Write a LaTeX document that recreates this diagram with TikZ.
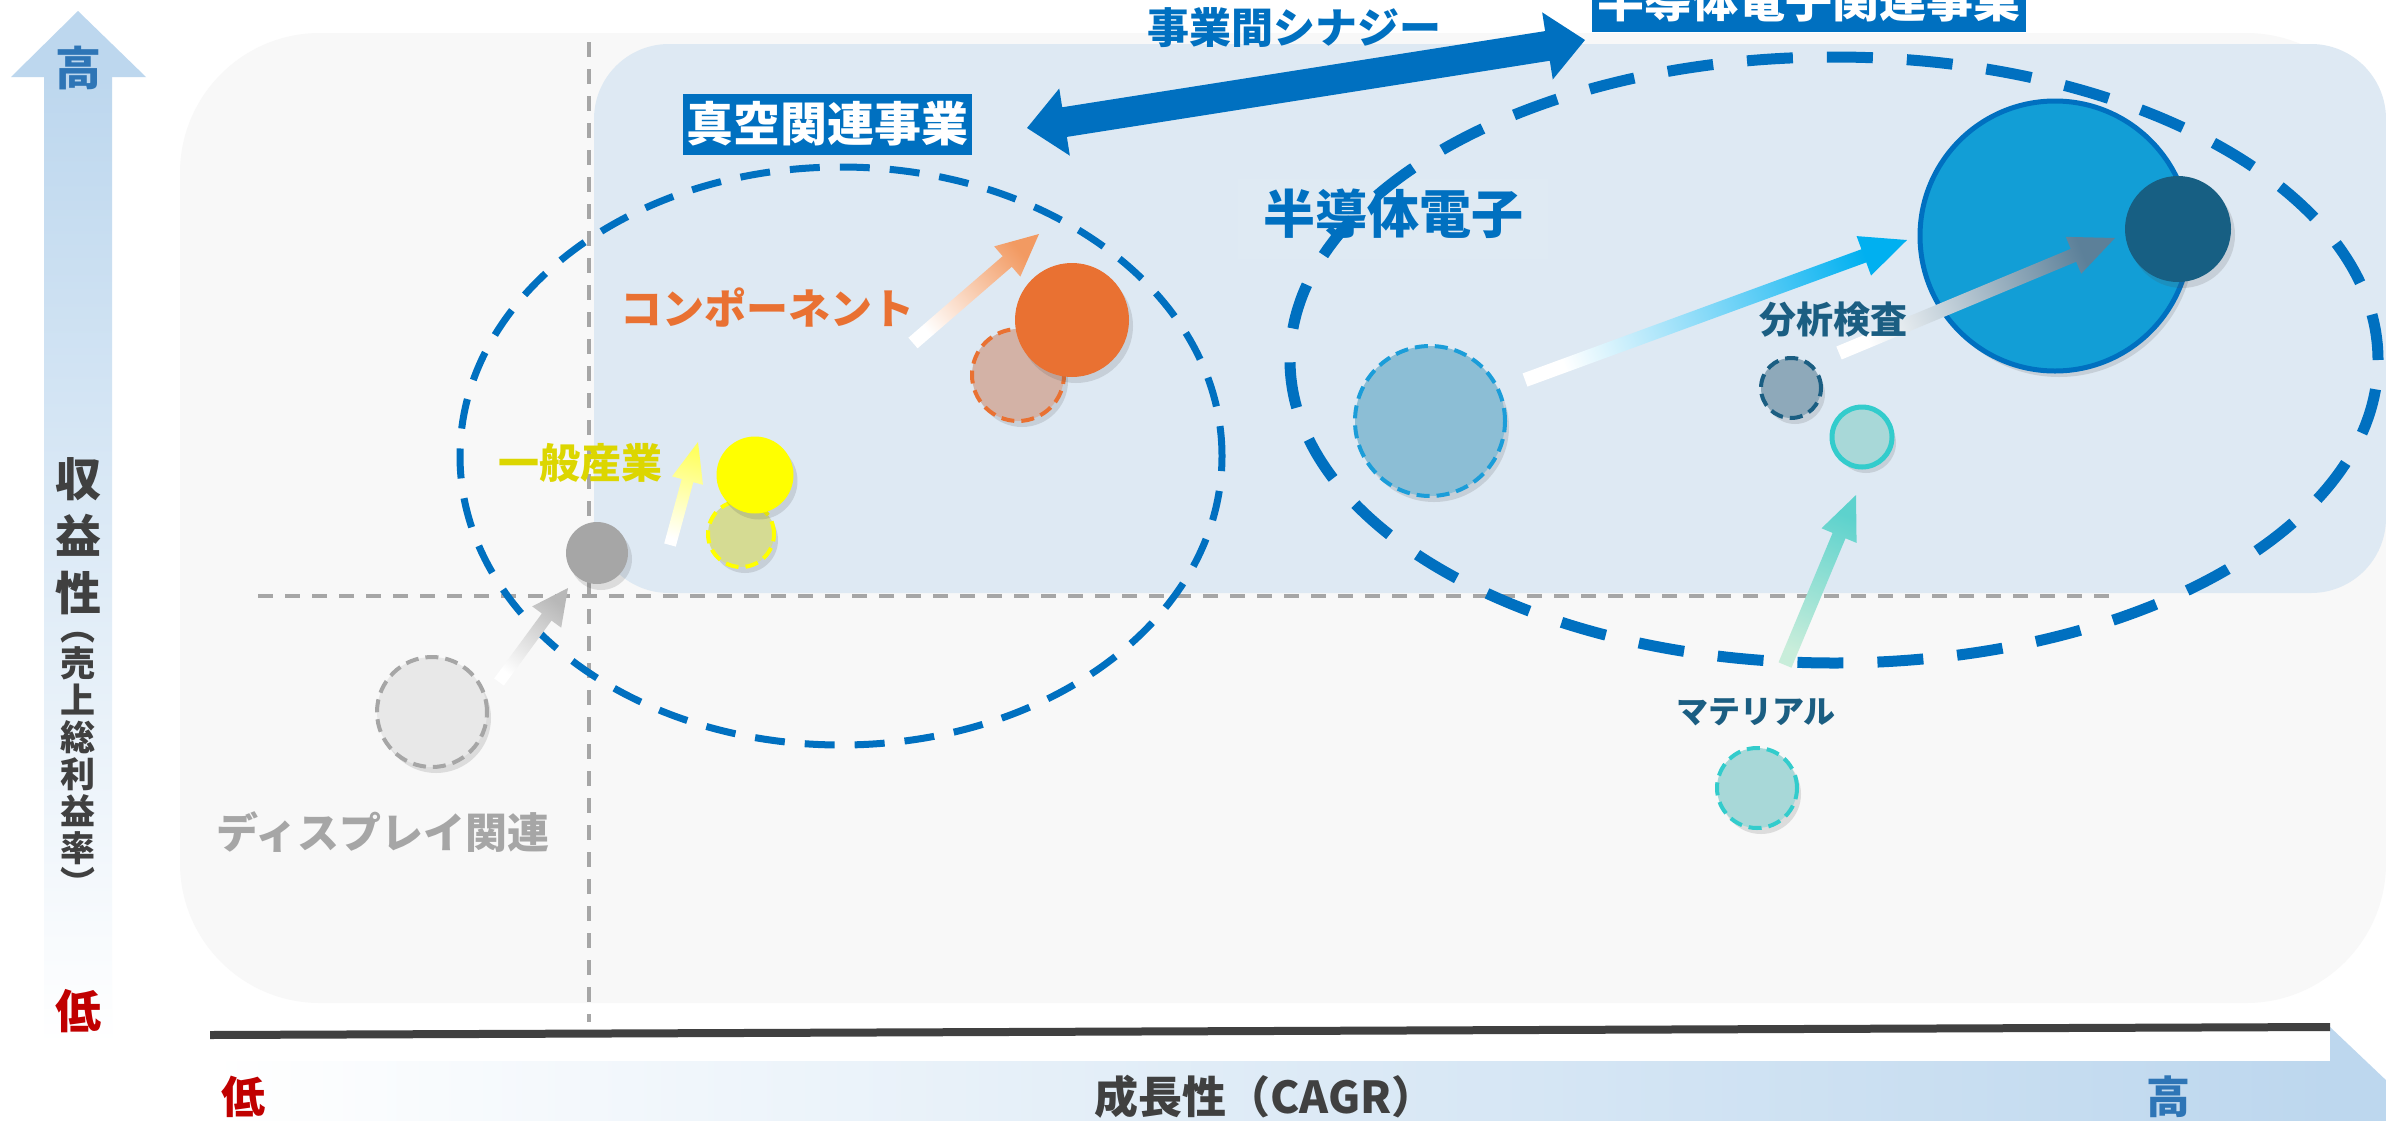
\documentclass[tikz,border=0pt]{standalone}
\usepackage{fontspec}
\setmainfont{Noto Sans CJK JP}
\usetikzlibrary{calc,shadows,shapes.geometric}
\definecolor{cblue}{HTML}{0070C0}
\definecolor{bgout}{HTML}{F8F8F8}
\definecolor{bgin}{HTML}{DEE9F3}
\definecolor{axblue}{HTML}{BDD7EE}
\definecolor{axtxt}{HTML}{404040}
\definecolor{lowred}{HTML}{C00000}
\definecolor{highblue}{HTML}{2E75B6}
\definecolor{gline}{HTML}{A6A6A6}
\definecolor{corange}{HTML}{E97132}
\definecolor{corangel}{HTML}{D3B2A6}
\definecolor{corangea}{HTML}{F29A62}
\definecolor{cyel}{HTML}{FFFF00}
\definecolor{cyell}{HTML}{D5DB93}
\definecolor{cyeltxt}{HTML}{DCD600}
\definecolor{cyela}{HTML}{FFFF60}
\definecolor{cgrey}{HTML}{A6A6A6}
\definecolor{cgreyl}{HTML}{E8E8E8}
\definecolor{cgreya}{HTML}{B8B8B8}
\definecolor{csemi}{HTML}{129ED6}
\definecolor{cnavy}{HTML}{175F83}
\definecolor{csemil}{HTML}{8CBED5}
\definecolor{csemid}{HTML}{1B9DD9}
\definecolor{ccyan}{HTML}{00B0F0}
\definecolor{cana}{HTML}{1B5E82}
\definecolor{canal}{HTML}{8EA9BA}
\definecolor{canaa}{HTML}{5C8099}
\definecolor{cteal}{HTML}{33CCCC}
\definecolor{ctealf}{HTML}{A8D8D8}
\definecolor{ctealt}{HTML}{C8EDDA}
\definecolor{cteala}{HTML}{5DD2CD}
\newcommand\fsz[1]{\fontsize{#1}{#1}\selectfont}
% tail, tip, shaft half, head half, head length, tail colour, head colour, shading angle
\newcommand\garrow[8]{%
  \coordinate (#1-b) at ($(#2)!#5!(#1)$);
  \shade[bottom color=#6, top color=#7, shading angle=#8]
    ($(#1)!#3!90:(#2)$) -- ($(#1-b)!#3!-90:(#1)$) -- ($(#1-b)!#4!-90:(#1)$) --
    (#2) -- ($(#1-b)!#4!90:(#1)$) -- ($(#1-b)!#3!90:(#1)$) -- ($(#1)!#3!-90:(#2)$) -- cycle;}
\begin{document}
\begin{tikzpicture}[x=1pt,y=-1pt,
  lbl/.style={inner sep=0pt},
  bub/.style={circle, inner sep=0pt, drop shadow={shadow xshift=4pt, shadow yshift=-6pt, opacity=0.16, fill=black!70}},
  dashc/.style={dash pattern=on 13pt off 7pt, line width=4pt},
  axdash/.style={draw=gline, line width=3.5pt, dash pattern=on 15pt off 12pt},
  grpell/.style={ellipse, draw=cblue, inner sep=0pt},
  tagbox/.style={fill=cblue, text=white, inner sep=0pt, font=\bfseries\fsz{47}},
  paren/.style={lbl, text=axtxt, font=\bfseries\fsz{35}, anchor=base, text height=1pt, text depth=0pt},
]
\useasboundingbox (0,0) rectangle (2386,1120);
\clip (0,0) rectangle (2386,1120);
\fill[white] (0,0) rectangle (2386,1120);
% regions
\fill[bgout, rounded corners=140pt] (180,33) rectangle (2386,1003);
\fill[bgin, rounded corners=75pt] (594,44) rectangle (2386,593);
\fill[white, opacity=0.05] (1238,179) rectangle (1548,259);
% quadrant lines
\coordinate (vq1) at (589,42); \coordinate (vq2) at (589,1022);
\coordinate (hq1) at (258,596); \coordinate (hq2) at (2120,596);
\draw[axdash] (vq1) -- (vq2);
\draw[axdash] (hq1) -- (hq2);
% group ellipses
\node[grpell, line width=7pt, dash pattern=on 30pt off 20pt, minimum width=762pt, minimum height=578pt] (vacgrp) at (841,456) {};
\node[grpell, line width=11pt, dash pattern=on 46pt off 34pt, minimum width=1088pt, minimum height=606pt] (semigrp) at (1834,360) {};
% bubbles
\node[bub, minimum size=110pt, fill=cgreyl, draw=cgrey, dashc] (disp0) at (432,712) {};
\node[bub, minimum size=62pt, fill=cgrey] (disp1) at (597,553) {};
\node[bub, minimum size=66pt, fill=cyell, draw=cyel, dashc] (gen0) at (741,534) {};
\node[bub, minimum size=77pt, fill=cyel] (gen1) at (755,475) {};
\node[bub, minimum size=92pt, fill=corangel, draw=corange, dashc] (comp0) at (1018,375) {};
\node[bub, minimum size=114pt, fill=corange] (comp1) at (1072,320) {};
\node[bub, minimum size=150pt, fill=csemil, draw=csemid, dashc] (semi0) at (1430,421) {};
\node[bub, minimum size=270pt, fill=csemi, draw=cblue, line width=5pt] (semi1) at (2055,236) {};
\node[bub, minimum size=106pt, fill=cnavy] (ana1) at (2178,229) {};
\node[bub, minimum size=60pt, fill=canal, draw=cana, dashc] (ana0) at (1791,388) {};
\node[bub, minimum size=60pt, fill=ctealf, draw=cteal, line width=5pt] (mat1) at (1862,437) {};
\node[bub, minimum size=80pt, fill=ctealf, draw=cteal, dashc] (mat0) at (1757,788) {};
% movement arrows
\coordinate (ga) at (499,682); \coordinate (gb) at (568,588);
\coordinate (ya) at (670,545); \coordinate (yb) at (698,442);
\coordinate (oa) at (913,343); \coordinate (ob) at (1039,234);
\coordinate (ba) at (1525,380); \coordinate (bb) at (1907,240);
\coordinate (da) at (1839,353); \coordinate (db) at (2115,238);
\coordinate (ta) at (1785,665); \coordinate (tb) at (1856,495);
\garrow{ga}{gb}{6pt}{18pt}{36pt}{white}{cgreya}{-36.3}
\garrow{ya}{yb}{6pt}{16pt}{40pt}{white}{cyela}{-15.2}
\garrow{oa}{ob}{7pt}{20pt}{42pt}{white}{corangea}{-49.1}
\garrow{ba}{bb}{7pt}{21pt}{46pt}{white}{ccyan}{-69.9}
\garrow{da}{db}{7pt}{20pt}{45pt}{white}{canaa}{-67.4}
\garrow{ta}{tb}{7pt}{19pt}{44pt}{ctealt}{cteala}{-22.7}
% synergy double arrow
\coordinate (syL) at (1027,128); \coordinate (syR) at (1585,40);
\coordinate (syBL) at ($(syL)!38pt!(syR)$);
\coordinate (syBR) at ($(syR)!38pt!(syL)$);
\fill[cblue] (syL) -- ($(syBL)!34pt!90:(syR)$) -- ($(syBL)!15pt!90:(syR)$) -- ($(syBR)!15pt!-90:(syL)$) -- ($(syBR)!34pt!-90:(syL)$) -- (syR) -- ($(syBR)!34pt!90:(syL)$) -- ($(syBR)!15pt!90:(syL)$) -- ($(syBL)!15pt!-90:(syR)$) -- ($(syBL)!34pt!-90:(syR)$) -- cycle;
% labels
\node[lbl, text=cgrey, font=\bfseries\fsz{42}] (tdisp) at (383,832) {ディスプレイ関連};
\node[lbl, text=cyeltxt, font=\bfseries\fsz{41}] (tgen) at (580,463) {一般産業};
\node[lbl, text=corange, font=\bfseries\fsz{42}] (tcomp) at (767,308) {コンポーネント};
\node[lbl, text=cblue, font=\bfseries\fsz{52}] (tsemi) at (1393,214) {半導体電子};
\node[lbl, text=cana, font=\bfseries\fsz{37}] (tana) at (1833,320) {分析検査};
\node[lbl, text=cana, font=\bfseries\fsz{32}] (tmat) at (1756,712) {マテリアル};
\node[lbl, text=cblue, font=\bfseries\fsz{42}] (tsyn) at (1294,28) {事業間シナジー};
\node[tagbox, minimum width=289pt, minimum height=61pt] (tvac) at (827,124) {真空関連事業};
\node[tagbox, minimum width=434pt, minimum height=64pt] (tsemib) at (1809,0) {\raisebox{-5pt}{半導体電子関連事業}};
% vertical axis
\shade[top color=axblue, middle color=axblue!85!white, bottom color=white] (44,76) rectangle (112,1045);
\fill[axblue] (78,11) -- (146,77) -- (11,77) -- cycle;
\node[lbl, text=highblue, font=\bfseries\fsz{46}] (yhi) at (78,68) {高};
\node[lbl, text=lowred, font=\bfseries\fsz{46}] (ylo) at (78,1011) {低};
\node[lbl, text=axtxt, align=center, font=\bfseries\fontsize{46}{57}\selectfont] (ylab) at (78,536) {収\\益\\性};
\node[paren] (ylp1) at (78,640) {︵};
\node[lbl, text=axtxt, align=center, font=\bfseries\fontsize{35}{37}\selectfont] (ylab2) at (78,756) {売\\上\\総\\利\\益\\率};
\node[paren] (ylp2) at (78,896) {︶};
% horizontal axis
\shade[left color=white, right color=axblue] (210,1061) rectangle (2331,1140);
\fill[axblue] (2330,1027) -- (2428,1120) -- (2330,1213) -- cycle;
\fill[axtxt] (210,1031) -- (2330,1023) -- (2330,1031) -- (210,1039) -- cycle;
\node[lbl, text=lowred, font=\bfseries\fsz{44}] (xlo) at (243,1097) {低};
\node[lbl, text=axtxt, font=\bfseries\fsz{44}] (xlab) at (1265,1097) {成長性（CAGR）};
\node[lbl, text=highblue, font=\bfseries\fsz{44}] (xhi) at (2168,1097) {高};
\end{tikzpicture}
\end{document}
